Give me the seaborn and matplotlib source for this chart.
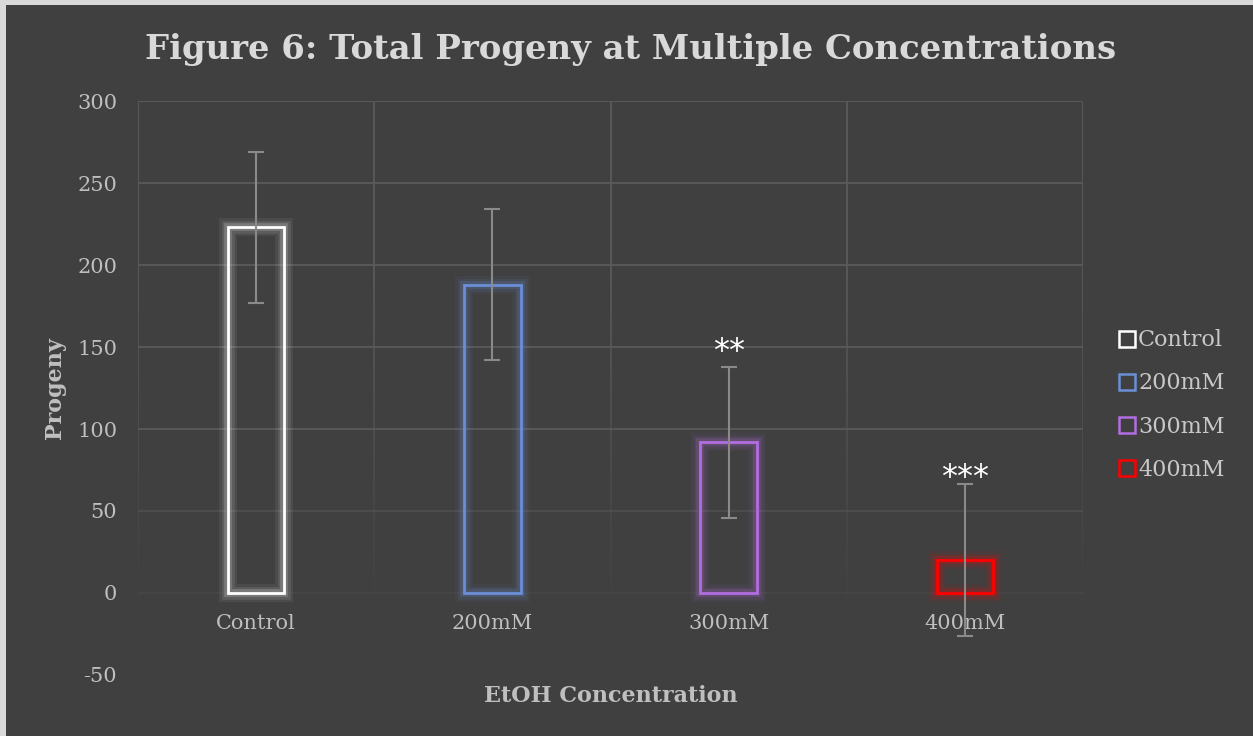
import numpy as np
import pandas as pd
import matplotlib
matplotlib.use("Agg")
import matplotlib.pyplot as plt
import matplotlib.patheffects as pe
from matplotlib.collections import LineCollection
from matplotlib.lines import Line2D
from matplotlib.patches import Rectangle
import seaborn as sns

# Mean total progeny per EtOH concentration, with standard deviation
categories = ["Control", "200mM", "300mM", "400mM"]
progeny = [223, 188, 92, 20]
std_dev = [46, 46, 46, 46.5]
significance = ["", "", "**", "***"]
significance_y = [None, None, 138, 61]
bar_colors = ["#ffffff", "#6a8fd6", "#b26ee0", "#ff0000"]
y_ticks = [-50, 0, 50, 100, 150, 200, 250, 300]

BG = "#404040"
GRID = "#5a5a5a"
TEXT = "#bfbfbf"
SERIF = ["DejaVu Serif"]

sns.set_theme(style="dark")
plt.rcParams["font.family"] = SERIF
plt.rcParams["axes.unicode_minus"] = False

df = pd.DataFrame({"Concentration": categories, "Progeny": progeny})

fig = plt.figure(figsize=(12.53, 7.36), dpi=100, facecolor="#d9d9d9")
fig.patches.append(Rectangle((6 / 1253, 0), 1, (736 - 5) / 736,
                             transform=fig.transFigure, facecolor=BG,
                             edgecolor="none", zorder=-5))
ax = fig.add_axes([138 / 1253, 61 / 736, (1083 - 138) / 1253, (675 - 101) / 736])
ax.set_zorder(2)
ax.patch.set_alpha(0)

sns.barplot(data=df, x="Concentration", y="Progeny", hue="Concentration",
            palette=bar_colors, fill=False, width=0.24, linewidth=2,
            errorbar=None, legend=False, ax=ax, zorder=3)

for patch, col in zip(ax.patches, bar_colors):
    patch.set_edgecolor(col)
    patch.set_path_effects([
        pe.Stroke(linewidth=13, foreground=col, alpha=0.06),
        pe.Stroke(linewidth=9, foreground=col, alpha=0.1),
        pe.Stroke(linewidth=5.5, foreground=col, alpha=0.18),
        pe.Normal(),
    ])

xpos = np.arange(len(categories))
ax.errorbar(xpos, progeny, yerr=std_dev, fmt="none", ecolor="#8a8a8a",
            elinewidth=1.5, capsize=6, capthick=1.5, zorder=4)

for x, lab, ly in zip(xpos, significance, significance_y):
    if lab:
        ax.text(x, ly, lab, ha="center", va="bottom", color="white",
                fontsize=23, family=["DejaVu Sans"], zorder=5)

ax.set_ylim(-50, 300)
ax.set_xlim(-0.5, len(categories) - 0.5)
ax.set_yticks(y_ticks)

# Horizontal gridlines fading toward the bottom of the plot
for v in y_ticks:
    a = 1.0 if v >= 100 else (0.55 if v == 50 else (0.25 if v == 0 else 0.0))
    if a > 0:
        ax.axhline(v, color=GRID, lw=1.3, alpha=a, zorder=1)

# Vertical category separators with a downward fade
ys = np.linspace(300, -12, 80)
for xb in np.arange(-0.5, len(categories), 1.0):
    segs = [[(xb, ys[i]), (xb, ys[i + 1])] for i in range(len(ys) - 1)]
    alph = np.clip((ys[:-1] - (-12)) / (200 - (-12)), 0, 1)
    cols = [(0x5a / 255, 0x5a / 255, 0x5a / 255, a) for a in alph]
    ax.add_collection(LineCollection(segs, colors=cols, linewidths=1.3, zorder=1))

ax.grid(False)
for sp in ax.spines.values():
    sp.set_visible(False)
# category labels sit just under the zero line
ax.spines["bottom"].set_position(("data", 0))
ax.tick_params(axis="both", length=0, colors=TEXT, labelsize=15)
ax.tick_params(axis="x", pad=15)
ax.tick_params(axis="y", pad=15)
for lbl in ax.get_xticklabels() + ax.get_yticklabels():
    lbl.set_color(TEXT)

ax.set_xlabel("EtOH Concentration", color=TEXT, fontsize=16, fontweight="bold")
ax.xaxis.set_label_coords(0.5, -0.018)
ax.set_ylabel("Progeny", color=TEXT, fontsize=16, fontweight="bold", labelpad=8)

fig.text(631 / 1253, 1 - 49 / 736, "Figure 6: Total Progeny at Multiple Concentrations",
         ha="center", va="center", color="#d9d9d9", fontsize=24.4, fontweight="bold")

handles = [Line2D([], [], marker="s", linestyle="none", markersize=11,
                  markerfacecolor="none", markeredgecolor=c, markeredgewidth=1.8)
           for c in bar_colors]
leg = fig.legend(handles, categories, loc="center left",
                 bbox_to_anchor=(1107 / 1253, 1 - 405 / 736), frameon=False,
                 handletextpad=0.0, labelspacing=0.95, fontsize=16,
                 handlelength=1.0, borderaxespad=0)
for t in leg.get_texts():
    t.set_color("#c8c8c8")

fig.savefig("out.png", dpi=100, facecolor=fig.get_facecolor())
